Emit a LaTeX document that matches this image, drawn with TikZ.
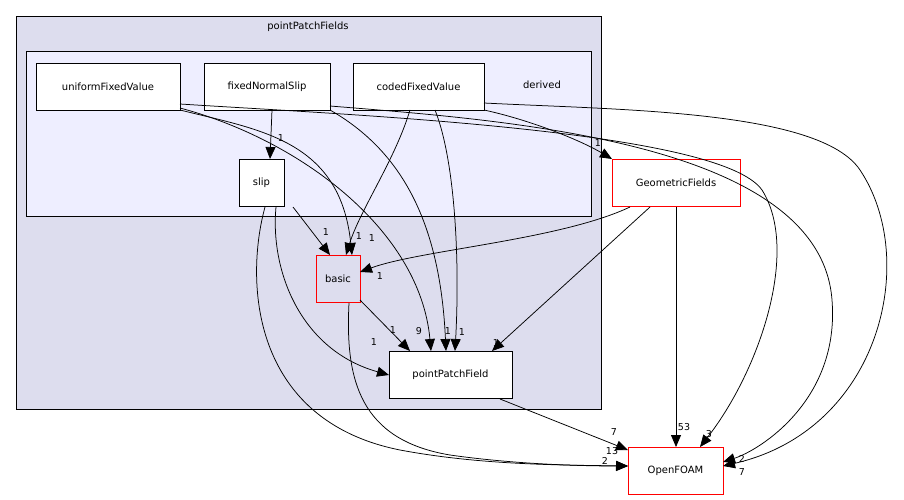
\documentclass[tikz,border=0pt]{standalone}
\usepackage{fontspec}
\setmainfont{DejaVu Sans}
\usetikzlibrary{arrows.meta}
\definecolor{outerbg}{HTML}{DDDDEE}
\definecolor{innerbg}{HTML}{EEEEFF}
\begin{document}
\begin{tikzpicture}[x=1pt,y=-1pt,
  box/.style={draw=black,fill=white,minimum height=47,inner sep=0pt,font=\fontsize{10}{12}\selectfont},
  rbox/.style={box,draw=red},
  dep/.style={-{Triangle[length=12,width=10]},line width=0.75pt},
  lab/.style={font=\fontsize{9.5}{11}\selectfont,inner sep=0pt}]
\useasboundingbox (0,0) rectangle (904,500);
\fill[white] (0,0) rectangle (904,500);
\draw[fill=outerbg] (16,16) rectangle (601,409);
\node[lab,font=\fontsize{10}{12}\selectfont] (t1) at (308,27) {pointPatchFields};
\draw[fill=innerbg] (26,51) rectangle (591,216);
\node[lab,font=\fontsize{10}{12}\selectfont] (t2) at (542,85) {derived};
\node[box,minimum width=144] (ufv) at (108,86.5) {uniformFixedValue};
\node[box,minimum width=126] (fns) at (267,86.5) {fixedNormalSlip};
\node[box,minimum width=131] (cfv) at (418.5,86.5) {codedFixedValue};
\node[box,minimum width=45] (slip) at (261.5,183) {slip};
\node[rbox,minimum width=44,fill=outerbg] (basic) at (338,279) {basic};
\node[box,minimum width=123] (ppf) at (450.5,375) {pointPatchField};
\node[rbox,minimum width=128] (gf) at (676,183) {GeometricFields};
\node[rbox,minimum width=95] (of) at (675.5,470.5) {OpenFOAM};
% edges
\draw[dep] (272,110) -- (270,159); \node[lab] at (281,138) {1};
\draw[dep] (180,110) .. controls (260,130) and (340,140) .. (352,255); \node[lab] at (359,236) {1};
\draw[dep] (180,108) .. controls (300,140) and (420,230) .. (431,351); \node[lab] at (393,330) {1};
\draw[dep] (330,110) .. controls (400,150) and (440,220) .. (446,351); \node[lab] at (448,331) {1};
\draw[dep] (330,106) .. controls (500,120) and (820,140) .. (832,300) .. controls (840,400) and (760,450) .. (723,462); \node[lab] at (742,459) {2};
\draw[dep] (410,110) .. controls (395,160) and (360,210) .. (346,255); \node[lab] at (372,238) {1};
\draw[dep] (435,110) .. controls (455,160) and (460,260) .. (455,351); \node[lab] at (462,332) {1};
\draw[dep] (484,110) .. controls (530,120) and (580,140) .. (612,159); \node[lab] at (598,143) {1};
\draw[dep] (484,103) .. controls (620,110) and (820,110) .. (860,170) .. controls (920,260) and (880,430) .. (723,466); \node[lab] at (742,472) {7};
\draw[dep] (180,104) .. controls (350,115) and (720,130) .. (762,190) .. controls (800,250) and (760,370) .. (700,447); \node[lab] at (709,434) {3};
\draw[dep] (293,207) -- (330,255); \node[lab] at (326,232) {1};
\draw[dep] (276,207) .. controls (270,270) and (300,350) .. (389,375); \node[lab] at (374,342) {1};
\draw[dep] (265,207) .. controls (245,280) and (250,420) .. (400,450) .. controls (480,465) and (560,465) .. (628,466); \node[lab] at (612,451) {13};
\draw[dep] (360,300) -- (410,351); \node[lab] at (419,331) {9};
\draw[dep] (349,303) .. controls (345,380) and (360,440) .. (450,455) .. controls (520,465) and (590,466) .. (628,466); \node[lab] at (605,461) {2};
\draw[dep] (630,207) .. controls (560,240) and (420,250) .. (360,272); \node[lab] at (380,276) {1};
\draw[dep] (650,207) -- (492,351); \node[lab] at (496,343) {1};
\draw[dep] (676,207) -- (676,447); \node[lab] at (684,427) {53};
\draw[dep] (500,399) -- (628,450); \node[lab] at (614,432) {7};
\end{tikzpicture}
\end{document}
